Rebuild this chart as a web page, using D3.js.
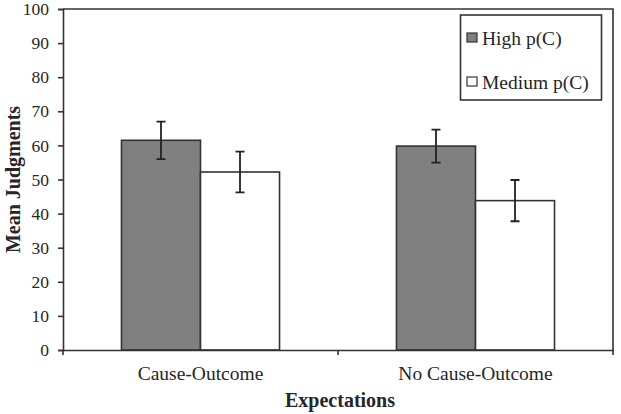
<!DOCTYPE html>
<html>
<head>
<meta charset="utf-8">
<script src="https://cdn.jsdelivr.net/npm/d3@7"></script>
<style>
  html, body { margin: 0; padding: 0; background: #fff; }
  svg { display: block; }
  text { font-family: "Liberation Serif", "Times New Roman", serif; fill: #262626; }
</style>
</head>
<body>
<div id="chart"></div>
<script>
const categories = ["Cause-Outcome", "No Cause-Outcome"];
const seriesNames = ["High p(C)", "Medium p(C)"];
const highValues = [61.5, 59.8];
const highErrors = [5.5, 4.85];
const mediumValues = [52.2, 43.8];
const mediumErrors = [6.0, 6.05];
const yTicks = [0, 10, 20, 30, 40, 50, 60, 70, 80, 90, 100];
const xTitle = "Expectations";
const yTitle = "Mean Judgments";

const W = 621, H = 414;
const mLeft = 63, mRight = 613, mTop = 9, mBottom = 350;
const lineColor = "#333";
const fills = { "High p(C)": "#808080", "Medium p(C)": "#ffffff" };

const data = categories.map((c, i) => ({
  category: c,
  bars: [
    { series: seriesNames[0], value: highValues[i], err: highErrors[i] },
    { series: seriesNames[1], value: mediumValues[i], err: mediumErrors[i] }
  ]
}));

const svg = d3.select("#chart").append("svg").attr("width", W).attr("height", H);

const y = d3.scaleLinear().domain([0, 100]).range([mBottom, mTop]);
const x0 = d3.scaleBand().domain(categories).range([mLeft, mRight]).padding(0);
const x1 = d3.scaleBand().domain(seriesNames).range([0, x0.bandwidth()]).paddingInner(0).paddingOuter(0.74);

// frame (top & right)
svg.append("path")
  .attr("d", `M${mLeft},${y(100)}H${mRight}V${y(0)}`)
  .attr("fill", "none").attr("stroke", lineColor).attr("stroke-width", 1.6);

// bars
const g = svg.append("g");
const groups = g.selectAll("g.grp").data(data).join("g")
  .attr("class", "grp")
  .attr("transform", d => `translate(${x0(d.category)},0)`);

groups.selectAll("rect").data(d => d.bars).join("rect")
  .attr("x", d => x1(d.series))
  .attr("y", d => y(d.value))
  .attr("width", x1.bandwidth())
  .attr("height", d => y(0) - y(d.value))
  .attr("fill", d => fills[d.series])
  .attr("stroke", lineColor).attr("stroke-width", 1.6);

// error bars
const cap = 4.5;
groups.selectAll("path.err").data(d => d.bars).join("path")
  .attr("class", "err")
  .attr("d", d => {
    const cx = x1(d.series) + x1.bandwidth() / 2;
    const y1 = y(d.value + d.err), y2 = y(d.value - d.err);
    return `M${cx - cap},${y1}H${cx + cap}M${cx},${y1}V${y2}M${cx - cap},${y2}H${cx + cap}`;
  })
  .attr("fill", "none").attr("stroke", "#222").attr("stroke-width", 1.8);

// y axis
const yAxis = svg.append("g").attr("transform", `translate(${mLeft},0)`)
  .call(d3.axisLeft(y).tickValues(yTicks).tickSize(5).tickPadding(9).tickFormat(d3.format("d")));
yAxis.select(".domain").attr("stroke", lineColor).attr("stroke-width", 1.6);
yAxis.selectAll(".tick line").attr("stroke", lineColor).attr("stroke-width", 1.6);
yAxis.selectAll(".tick text").attr("font-size", "17.5px").attr("fill", "#333")
  .attr("font-family", '"Liberation Serif", "Times New Roman", serif');

// x axis
const xAxis = svg.append("g").attr("transform", `translate(0,${mBottom})`)
  .call(d3.axisBottom(x0).tickSize(0).tickPadding(16));
xAxis.select(".domain").attr("stroke", lineColor).attr("stroke-width", 1.6);
xAxis.selectAll(".tick text").attr("font-size", "19.5px").attr("fill", "#262626")
  .attr("font-family", '"Liberation Serif", "Times New Roman", serif')
  .attr("dy", "0.7em");
// boundary ticks between categories
const bounds = [mLeft, ...categories.map(c => x0(c) + x0.bandwidth())];
svg.append("g").selectAll("line").data(bounds).join("line")
  .attr("x1", d => d).attr("x2", d => d)
  .attr("y1", mBottom).attr("y2", mBottom + 5)
  .attr("stroke", lineColor).attr("stroke-width", 1.6);

// axis titles
svg.append("text")
  .attr("x", (mLeft + mRight) / 2 + 2).attr("y", 407)
  .attr("text-anchor", "middle").attr("font-weight", "bold").attr("font-size", "20px")
  .attr("fill", "#111")
  .text(xTitle);

svg.append("text")
  .attr("transform", `translate(20,${(mTop + mBottom) / 2}) rotate(-90)`)
  .attr("text-anchor", "middle").attr("font-weight", "bold").attr("font-size", "20px")
  .attr("fill", "#111")
  .text(yTitle);

// legend
const lg = svg.append("g");
lg.append("rect").attr("x", 460.5).attr("y", 15).attr("width", 141).attr("height", 85)
  .attr("fill", "#fff").attr("stroke", lineColor).attr("stroke-width", 1.6);
const items = lg.selectAll("g.item").data(seriesNames).join("g")
  .attr("class", "item")
  .attr("transform", (d, i) => `translate(467,${33 + i * 44})`);
items.append("rect").attr("width", 10).attr("height", 9)
  .attr("fill", d => fills[d]).attr("stroke", lineColor).attr("stroke-width", 1.2);
items.append("text").attr("x", 15).attr("y", 11.5)
  .attr("font-size", "19.5px").attr("fill", "#262626")
  .text(d => d);
</script>
</body>
</html>
